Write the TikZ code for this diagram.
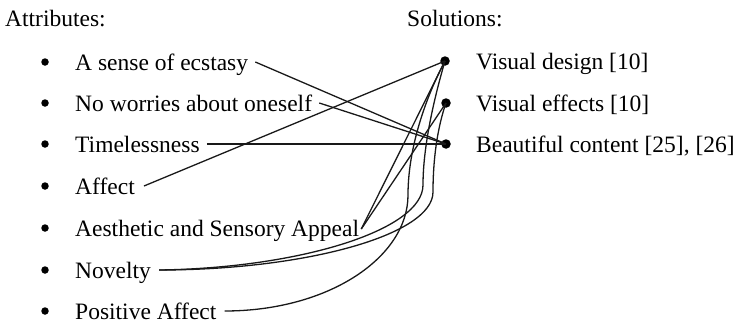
\documentclass[tikz,border=0pt]{standalone}
\usepackage{fontspec}
\setmainfont{Liberation Serif}
\begin{document}
\begin{tikzpicture}[x=1pt,y=-1pt,
  lbl/.style={anchor=base west, inner sep=0pt, font=\fontsize{23.5}{28}\selectfont},
  bul/.style={circle, fill=black, inner sep=0pt, minimum size=7.5pt},
  sdot/.style={circle, fill=black, inner sep=0pt, minimum size=9.5pt},
  link/.style={line width=1.3pt, black!90}]
\useasboundingbox (0,0) rectangle (734,324);
% headings
\node[lbl] (hatt) at (5,27) {Attributes:};
\node[lbl] (hsol) at (407,27) {Solutions:};
% bullets
\foreach \i/\y in {1/62,2/103,3/144,4/186,5/228,6/270,7/311}
  \node[bul] (b\i) at (45,\y) {};
% attribute texts
\node[lbl] (t1) at (75,70) {A sense of ecstasy};
\node[lbl] (t2) at (75,111) {No worries about oneself};
\node[lbl] (t3) at (75,152) {Timelessness};
\node[lbl] (t4) at (75,194) {Affect};
\node[lbl] (t5) at (75,236) {Aesthetic and Sensory Appeal};
\node[lbl] (t6) at (75,278) {Novelty};
\node[lbl] (t7) at (75,319) {Positive Affect};
% solution dots and texts
\node[sdot] (vd) at (445,61) {};
\node[sdot] (ve) at (446,103) {};
\node[sdot] (bc) at (446,144) {};
\node[lbl] (s1) at (476,69) {Visual design [10]};
\node[lbl] (s2) at (476,111) {Visual effects [10]};
\node[lbl] (s3) at (476,152) {Beautiful content [25], [26]};
% connector start points
\coordinate (e1) at ([shift={(7,-8)}]t1.base east);
\coordinate (e2) at ([shift={(7,-8)}]t2.base east);
\coordinate (e3) at ([shift={(7,-8)}]t3.base east);
\coordinate (e4) at ([shift={(9,-8)}]t4.base east);
\coordinate (e5) at ([shift={(2,-7)}]t5.base east);
\coordinate (e6) at ([shift={(8,-8)}]t6.base east);
\coordinate (e7) at ([shift={(8,-8)}]t7.base east);
% connectors
\draw[link] (e1) -- (bc.center);
\draw[link] (e2) -- (bc.center);
\draw[link] (e3) -- (bc.center);
\draw[link] (e4) -- (vd.center);
\draw[link] (e5) -- (vd.center);
\draw[link] (e5) -- (ve.center);
\draw[link] (e6) .. controls (300,268) and (423,230) .. (423,185) .. controls (423,140) and (438,85) .. (vd.center);
\draw[link] (e6) .. controls (305,270) and (433,235) .. (433,192) .. controls (433,150) and (440,120) .. (ve.center);
\draw[link] (e7) .. controls (329,311) and (408,257) .. (408,195) .. controls (408,140) and (432,85) .. (vd.center);
\end{tikzpicture}
\end{document}
